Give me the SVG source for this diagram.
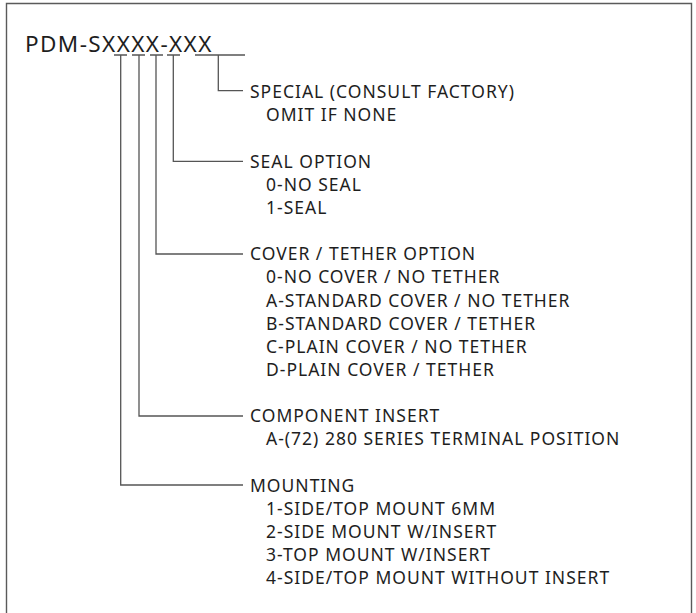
<svg xmlns="http://www.w3.org/2000/svg" width="696" height="613" viewBox="0 0 696 613">
<style>
.frame{fill:none;stroke:#5a5a5a;stroke-width:1.4}
.ln{fill:none;stroke:#555;stroke-width:1.3}
.t{font-family:"Noto Sans","Open Sans",sans-serif;font-size:17.5px;letter-spacing:1px;fill:#1e1e1e}
.title{font-family:"Noto Sans","Open Sans",sans-serif;font-size:22.5px;letter-spacing:1.4px;fill:#1e1e1e}
</style>
<rect width="696" height="613" fill="#fff"/>
<path class="frame" d="M6.5,613 V3.5 H691.5 V613"/>
<g id="title"><text class="title" x="25" y="52">PDM-SXXXX-XXX</text></g>
<g id="connectors">
<path class="ln" d="M114,55 H127 M132,55 H145 M150,55 H163 M167,55 H180 M195,55 H245"/>
<path class="ln" d="M218.3,55 V90.7 H243"/>
<path class="ln" d="M173.3,55 V161.4 H243"/>
<path class="ln" d="M156,55 V254 H243"/>
<path class="ln" d="M139,55 V416 H243"/>
<path class="ln" d="M120.7,55 V485 H243"/>
</g>
<g id="special">
<text class="t" x="250" y="98.2">SPECIAL (CONSULT FACTORY)</text>
<text class="t" x="266" y="121.3">OMIT IF NONE</text>
</g>
<g id="seal">
<text class="t" x="250" y="167.6">SEAL OPTION</text>
<text class="t" x="266" y="190.8">0-NO SEAL</text>
<text class="t" x="266" y="213.9">1-SEAL</text>
</g>
<g id="cover">
<text class="t" x="250" y="260.2">COVER / TETHER OPTION</text>
<text class="t" x="266" y="283.3">0-NO COVER / NO TETHER</text>
<text class="t" x="266" y="306.5">A-STANDARD COVER / NO TETHER</text>
<text class="t" x="266" y="329.6">B-STANDARD COVER / TETHER</text>
<text class="t" x="266" y="352.8">C-PLAIN COVER / NO TETHER</text>
<text class="t" x="266" y="375.9">D-PLAIN COVER / TETHER</text>
</g>
<g id="component">
<text class="t" x="250" y="422.2">COMPONENT INSERT</text>
<text class="t" x="266" y="445.3">A-(72) 280 SERIES TERMINAL POSITION</text>
</g>
<g id="mounting">
<text class="t" x="250" y="491.7">MOUNTING</text>
<text class="t" x="266" y="514.9">1-SIDE/TOP MOUNT 6MM</text>
<text class="t" x="266" y="538">2-SIDE MOUNT W/INSERT</text>
<text class="t" x="266" y="561.1">3-TOP MOUNT W/INSERT</text>
<text class="t" x="266" y="584.3">4-SIDE/TOP MOUNT WITHOUT INSERT</text>
</g>
</svg>
